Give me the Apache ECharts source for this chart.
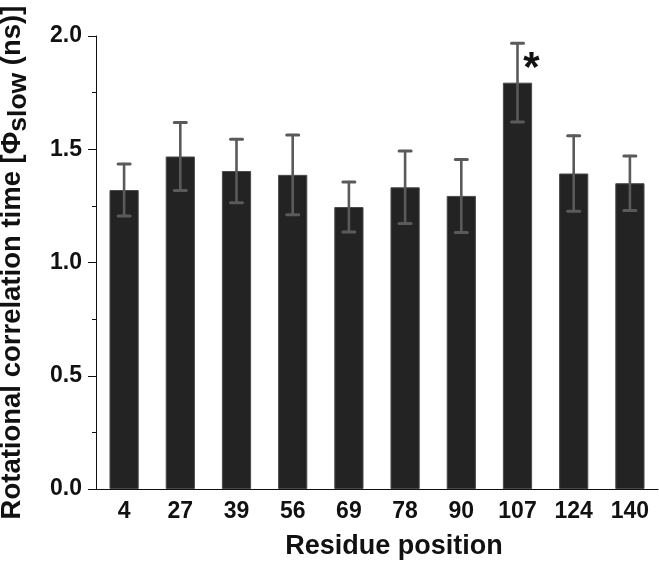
<!DOCTYPE html>
<html>
<head>
<meta charset="utf-8">
<script src="https://cdn.jsdelivr.net/npm/echarts@6/dist/echarts.min.js"></script>
<style>
html,body{margin:0;padding:0;background:#fff;}
#chart{width:659px;height:569px;}
</style>
</head>
<body>
<div id="chart"></div>
<script>
const categories = ['4', '27', '39', '56', '69', '78', '90', '107', '124', '140'];
const means = [1.32, 1.468, 1.404, 1.387, 1.245, 1.332, 1.294, 1.794, 1.393, 1.35];
const errors = [0.115, 0.15, 0.14, 0.176, 0.11, 0.16, 0.161, 0.174, 0.167, 0.12];
const significance = ['', '', '', '', '', '', '', '*', '', ''];
const yTicks = [0, 0.5, 1.0, 1.5, 2.0];

const FONT = '"Liberation Sans", Arial, Helvetica, sans-serif';
const chart = echarts.init(document.getElementById('chart'));

const barData = means.map((v, i) => {
  const item = { value: v };
  if (significance[i]) {
    item.label = {
      show: true,
      formatter: significance[i],
      position: 'top',
      offset: [14, 13],
      fontSize: 42,
      fontWeight: 'bold',
      fontFamily: FONT,
      color: '#111'
    };
  }
  return item;
});

const errData = means.map((v, i) => [i, v, errors[i]]);

chart.setOption({
  animation: false,
  backgroundColor: '#fff',
  grid: { left: 96, right: 1, top: 36, bottom: 80, containLabel: false, outerBoundsMode: 'none' },
  xAxis: {
    type: 'category',
    data: categories,
    name: 'Residue position',
    nameLocation: 'middle',
    nameGap: 44,
    nameTextStyle: { fontSize: 27, fontWeight: 'bold', fontFamily: FONT, color: '#111', padding: [0, 0, 0, 34] },
    axisLine: { lineStyle: { color: '#111', width: 1 } },
    axisTick: { show: false },
    axisLabel: { fontSize: 23, fontWeight: 'bold', fontFamily: FONT, color: '#111', margin: 11 }
  },
  yAxis: {
    type: 'value',
    min: yTicks[0],
    max: yTicks[yTicks.length - 1],
    interval: 0.5,
    name: '{n|Rotational correlation time [Φ}{s|slow}{n| (ns)]}',
    nameLocation: 'middle',
    nameGap: 64,
    nameTextStyle: {
      color: '#111',
      rich: {
        n: { fontSize: 27.5, fontWeight: 'bold', fontFamily: FONT, color: '#111', verticalAlign: 'top' },
        s: { fontSize: 26.5, fontWeight: 'bold', fontFamily: FONT, color: '#111', padding: [7, 0, 0, 0] }
      }
    },
    axisLine: { show: true, lineStyle: { color: '#111', width: 1 } },
    axisTick: { show: true, length: 8, lineStyle: { color: '#111' } },
    minorTick: { show: true, splitNumber: 2, length: 4, lineStyle: { color: '#111' } },
    splitLine: { show: false },
    axisLabel: {
      fontSize: 23, fontWeight: 'bold', fontFamily: FONT, color: '#111', margin: 14,
      formatter: v => v.toFixed(1)
    }
  },
  series: [
    {
      type: 'bar',
      data: barData,
      barWidth: '52%',
      itemStyle: { color: '#232323', borderColor: '#4a4a4a', borderWidth: 1 },
      z: 2
    },
    {
      type: 'custom',
      data: errData,
      z: 3,
      renderItem: function (params, api) {
        const i = api.value(0);
        const m = api.value(1);
        const e = api.value(2);
        const top = api.coord([i, m + e]);
        const bot = api.coord([i, m - e]);
        const hw = 6;
        const stemStyle = { stroke: '#5a5a5a', lineWidth: 2.6, lineCap: 'round' };
        const capStyle = { stroke: '#5a5a5a', lineWidth: 3, lineCap: 'round' };
        return {
          type: 'group',
          children: [
            { type: 'line', shape: { x1: top[0], y1: top[1], x2: bot[0], y2: bot[1] }, style: stemStyle },
            { type: 'line', shape: { x1: top[0] - hw, y1: top[1], x2: top[0] + hw, y2: top[1] }, style: capStyle },
            { type: 'line', shape: { x1: bot[0] - hw, y1: bot[1], x2: bot[0] + hw, y2: bot[1] }, style: capStyle }
          ]
        };
      }
    }
  ]
});
</script>
</body>
</html>
